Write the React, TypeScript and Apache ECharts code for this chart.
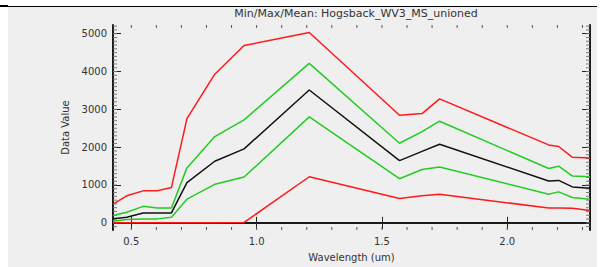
import React, { useEffect, useRef } from "react";
import * as echarts from "echarts";

const title = "Min/Max/Mean: Hogsback_WV3_MS_unioned";
const xName = "Wavelength (um)";
const yName = "Data Value";

const wavelengths = [0.427, 0.482, 0.547, 0.604, 0.66, 0.722, 0.833, 0.95, 1.21, 1.57, 1.66, 1.73, 2.165, 2.205, 2.26, 2.33];
const maxValues = [495, 714, 845, 845, 931, 2756, 3929, 4686, 5033, 2843, 2887, 3278, 2060, 2018, 1731, 1713];
const upperStd = [192, 279, 435, 391, 391, 1452, 2279, 2720, 4216, 2104, 2409, 2686, 1435, 1496, 1235, 1218];
const meanValues = [105, 149, 261, 261, 261, 1061, 1627, 1956, 3512, 1643, 1888, 2078, 1106, 1121, 949, 913];
const lowerStd = [44, 88, 104, 104, 149, 626, 1017, 1210, 2800, 1166, 1408, 1478, 756, 818, 670, 626];
const minValues = [0, 0, 0, 0, 0, 0, 0, 10, 1218, 644, 714, 756, 391, 391, 383, 323];

const xMajorTicks = [0.5, 1.0, 1.5, 2.0];
const xMinorTicks = [0.5, 0.6, 0.7, 0.8, 0.9, 1.0, 1.1, 1.2, 1.3, 1.4, 1.5, 1.6, 1.7, 1.8, 1.9, 2.0, 2.1, 2.2, 2.3];
const yMajorTicks = [0, 1000, 2000, 3000, 4000, 5000];
const yMinorTicks = [
  -100, 0, 100, 200, 300, 400, 500, 600, 700, 800, 900, 1000, 1100, 1200, 1300, 1400, 1500, 1600, 1700, 1800, 1900,
  2000, 2100, 2200, 2300, 2400, 2500, 2600, 2700, 2800, 2900, 3000, 3100, 3200, 3300, 3400, 3500, 3600, 3700, 3800,
  3900, 4000, 4100, 4200, 4300, 4400, 4500, 4600, 4700, 4800, 4900, 5000, 5100, 5200,
];

const X_MIN = 0.427;
const X_MAX = 2.33;
const Y_MIN = -190;
const Y_MAX = 5230;

const FONT = "DejaVu Sans";

export default function App() {
  const ref = useRef<HTMLDivElement>(null);

  useEffect(() => {
    if (!ref.current) return;
    const chart = echarts.init(ref.current, undefined, { renderer: "svg" });
    const axisLine = { show: true, lineStyle: { color: "#1a1a1a", width: 2 } };
    const mkX = (pos: "top" | "bottom", labels: boolean) => ({
      type: "value",
      min: X_MIN,
      max: X_MAX,
      position: pos,
      gridIndex: 0,
      axisLine,
      axisTick: {
        show: true,
        inside: true,
        length: 6,
        customValues: xMajorTicks,
        lineStyle: { color: "#222", width: 1 },
      },
      axisLabel: labels
        ? {
            show: true,
            customValues: xMajorTicks,
            formatter: (v: number) => v.toFixed(1),
            color: "#333",
            fontFamily: FONT,
            fontSize: 10,
            margin: 6,
          }
        : { show: false },
      splitLine: { show: false },
      name: labels ? xName : "",
      nameLocation: "middle",
      nameGap: 22,
      nameTextStyle: { color: "#333", fontFamily: FONT, fontSize: 10 },
    });
    const mkY = (pos: "left" | "right", labels: boolean) => ({
      type: "value",
      min: Y_MIN,
      max: Y_MAX,
      position: pos,
      gridIndex: 0,
      axisLine,
      axisTick: {
        show: true,
        inside: true,
        length: 8,
        customValues: yMajorTicks,
        lineStyle: { color: "#222", width: 1 },
      },
      axisLabel: labels
        ? {
            show: true,
            customValues: yMajorTicks,
            formatter: (v: number) => String(Math.round(v)),
            color: "#333",
            fontFamily: FONT,
            fontSize: 10,
            margin: 6,
          }
        : { show: false },
      splitLine: { show: false },
      name: labels ? yName : "",
      nameLocation: "middle",
      nameGap: 40,
      nameRotate: 90,
      nameTextStyle: { color: "#333", fontFamily: FONT, fontSize: 10 },
    });
    const line = (name: string, vals: number[], color: string) => ({
      type: "line",
      name,
      xAxisIndex: 0,
      yAxisIndex: 0,
      data: wavelengths.map((w, i) => [w, vals[i]]),
      showSymbol: false,
      symbol: "none",
      lineStyle: { color, width: 1.5 },
      itemStyle: { color },
      z: 3,
    });
    const tickStyle = { stroke: "#555", lineWidth: 1 };
    const xMinorSeries = {
      type: "custom",
      xAxisIndex: 0,
      yAxisIndex: 0,
      clip: false,
      silent: true,
      z: 2,
      data: xMinorTicks.map((v) => [v, Y_MIN]),
      renderItem: (params: any, api: any) => {
        const cs = params.coordSys;
        const x = api.coord([api.value(0), Y_MIN])[0];
        const top = cs.y;
        const bottom = cs.y + cs.height;
        return {
          type: "group",
          children: [
            { type: "line", shape: { x1: x, y1: bottom, x2: x, y2: bottom - 3 }, style: tickStyle },
            { type: "line", shape: { x1: x, y1: top, x2: x, y2: top + 3 }, style: tickStyle },
          ],
        };
      },
    };
    const yMinorSeries = {
      type: "custom",
      xAxisIndex: 0,
      yAxisIndex: 0,
      clip: false,
      silent: true,
      z: 2,
      data: yMinorTicks.map((v) => [X_MIN, v]),
      renderItem: (params: any, api: any) => {
        const cs = params.coordSys;
        const y = api.coord([X_MIN, api.value(1)])[1];
        const left = cs.x;
        const right = cs.x + cs.width;
        return {
          type: "group",
          children: [
            { type: "line", shape: { x1: left, y1: y, x2: left + 4, y2: y }, style: { stroke: "#777", lineWidth: 1 } },
            { type: "line", shape: { x1: right, y1: y, x2: right - 4, y2: y }, style: { stroke: "#777", lineWidth: 1 } },
          ],
        };
      },
    };
    chart.setOption({
      animation: false,
      backgroundColor: "transparent",
      title: {
        text: title,
        left: 351,
        textAlign: "center",
        top: 3,
        textStyle: { color: "#333", fontFamily: FONT, fontSize: 11, fontWeight: "normal" },
      },
      grid: { left: 113, right: 17, top: 25, bottom: 34, containLabel: false },
      xAxis: [mkX("bottom", true), mkX("top", false)],
      yAxis: [mkY("left", true), mkY("right", false)],
      series: [
        xMinorSeries,
        yMinorSeries,
        line("Min", minValues, "#ff1a1a"),
        line("Max", maxValues, "#ff1a1a"),
        line("Mean - StdDev", lowerStd, "#22cc22"),
        line("Mean + StdDev", upperStd, "#22cc22"),
        line("Mean", meanValues, "#111111"),
      ],
    });
    return () => chart.dispose();
  }, []);

  return (
    <div style={{ position: "fixed", left: 0, top: 0, width: 607, height: 267, background: "#ffffff", overflow: "hidden" }}>
      <div style={{ position: "absolute", left: 0, top: 5, width: 8, height: 2, background: "#000" }} />
      <div style={{ position: "absolute", left: 8, top: 6, width: 589, height: 1, background: "#000" }} />
      <div style={{ position: "absolute", left: 8, top: 7, width: 589, height: 260, background: "#efefef" }} />
      <div ref={ref} style={{ position: "absolute", left: 0, top: 0, width: 607, height: 267 }} />
    </div>
  );
}
